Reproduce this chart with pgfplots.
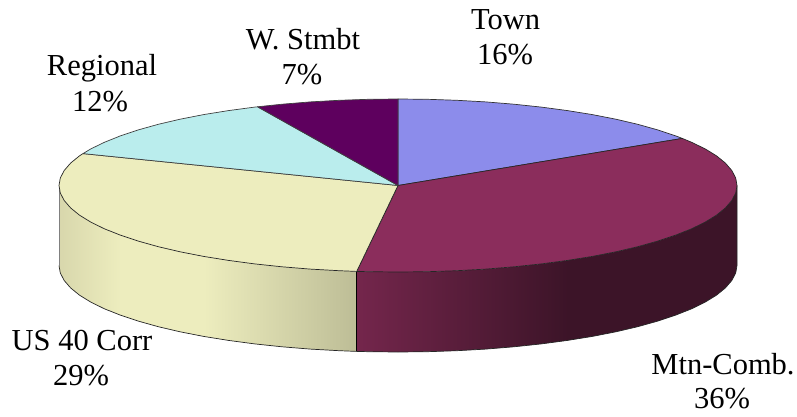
\documentclass[border=0pt]{standalone}
\usepackage{pgfplots}
\pgfplotsset{compat=1.18}
\usepackage{fontspec}
\setmainfont{Liberation Serif}
\definecolor{cTown}{HTML}{8C8CEB}
\definecolor{cMtn}{HTML}{8B2D5C}
\definecolor{cUS}{HTML}{EDEDBE}
\definecolor{cReg}{HTML}{BAEDED}
\definecolor{cW}{HTML}{5E005E}
\definecolor{sMtnA}{HTML}{74264C}
\definecolor{sMtnB}{HTML}{3C1428}
\definecolor{sUSA}{HTML}{D8D7AC}
\definecolor{sUSC}{HTML}{BDBD96}
\newcommand{\lab}[3]{\node[anchor=base,inner sep=0pt,font=\fontsize{30.5}{35}\selectfont] at (axis cs:#1,#2) {#3};}
\begin{document}
\begin{tikzpicture}
\begin{axis}[
  scale only axis, width=797pt, height=417pt,
  xmin=0, xmax=797, ymin=0, ymax=417, y dir=reverse,
  ticks=none, axis line style={draw=none}, clip=false,
  every axis plot/.append style={line join=round}
]
% side: Mtn-Comb.
\addplot[draw=none, left color=sMtnB, right color=sMtnB] coordinates {
(737,185.5)(735.7,193)(731.8,200.5)(725.4,207.9)(716.6,215.1)(705.2,222.1)(691.6,228.8)(675.7,235.1)(657.7,241.1)(637.7,246.7)(615.9,251.8)(592.4,256.4)(567.5,260.4)
(567.5,340.4)(592.4,336.4)(615.9,331.8)(637.7,326.7)(657.7,321.1)(675.7,315.1)(691.6,308.8)(705.2,302.1)(716.6,295.1)(725.4,287.9)(731.8,280.5)(735.7,273)(737,265.5)(737,185.5)};
\addplot[draw=none, left color=sMtnA, right color=sMtnB] coordinates {
(568,260.4)(541.3,263.9)(513.9,266.8)(485.7,269.1)(456.9,270.7)(427.6,271.7)(398,272)(368.4,271.7)(356.7,271.4)
(356.7,351.4)(368.4,351.7)(398,352)(427.6,351.7)(456.9,350.7)(485.7,349.1)(513.9,346.8)(541.3,343.9)(568,340.4)(568,260.4)};
% side: US 40 Corr
\addplot[draw=none, left color=cUS, right color=sUSC] coordinates {
(356.7,271.4)(339.1,270.7)(310.3,269.1)(282.1,266.8)(254.7,263.9)(228.5,260.4)(203.6,256.4)
(203.6,336.4)(228.5,340.4)(254.7,343.9)(282.1,346.8)(310.3,349.1)(339.1,350.7)(356.7,351.4)(356.7,271.4)};
\addplot[draw=none, fill=cUS] coordinates {
(204,256.4)(180.1,251.8)(158.3,246.7)(138.3,241.1)(120,235.1)
(120,315.1)(138.3,321.1)(158.3,326.7)(180.1,331.8)(204,336.4)(204,256.4)};
\addplot[draw=none, left color=sUSA, right color=cUS] coordinates {
(120.5,235.1)(104.4,228.8)(90.8,222.1)(79.4,215.1)(70.6,207.9)(64.2,200.5)(60.3,193)(59,185.5)
(59,265.5)(60.3,273)(64.2,280.5)(70.6,287.9)(79.4,295.1)(90.8,302.1)(104.4,308.8)(120.5,315.1)(120.5,235.1)};
% side outlines
\addplot[draw=black!85, line width=0.7pt] coordinates {
(737,185.5)(737,265.5)(735.7,273)(731.8,280.5)(725.4,287.9)(716.6,295.1)(705.2,302.1)(691.6,308.8)(675.7,315.1)(657.7,321.1)(637.7,326.7)(615.9,331.8)(592.4,336.4)(567.5,340.4)(541.3,343.9)(513.9,346.8)(485.7,349.1)(456.9,350.7)(427.6,351.7)(398,352)(368.4,351.7)(356.7,351.4)(339.1,350.7)(310.3,349.1)(282.1,346.8)(254.7,343.9)(228.5,340.4)(203.6,336.4)(180.1,331.8)(158.3,326.7)(138.3,321.1)(120.3,315.1)(104.4,308.8)(90.8,302.1)(79.4,295.1)(70.6,287.9)(64.2,280.5)(60.3,273)(59,265.5)};
\addplot[draw=black!50, line width=0.6pt] coordinates {(59,185.5)(59,265.5)};
\addplot[draw=black, line width=0.7pt] coordinates {(356.7,271.4)(356.7,351.4)};
% top: Town 16%
\addplot[draw=black!80, line width=0.7pt, fill=cTown] coordinates {
(398,185.5)(398,99)(427.6,99.3)(456.9,100.3)(485.7,101.9)(513.9,104.2)(541.3,107.1)(567.5,110.6)(592.4,114.6)(615.9,119.2)(637.7,124.3)(657.7,129.9)(675.7,135.9)(682.3,138.4)(398,185.5)};
% top: Mtn-Comb. 36%
\addplot[draw=black!85, line width=0.7pt, fill=cMtn] coordinates {
(398,185.5)(682.3,138.4)(691.6,142.3)(705.2,148.9)(716.6,155.9)(725.4,163.1)(731.8,170.5)(735.7,178)(737,185.5)(735.7,193)(731.8,200.5)(725.4,207.9)(716.6,215.1)(705.2,222.1)(691.6,228.8)(675.7,235.1)(657.7,241.1)(637.7,246.7)(615.9,251.8)(592.4,256.4)(567.5,260.4)(541.3,263.9)(513.9,266.8)(485.7,269.1)(456.9,270.7)(427.6,271.7)(398,272)(368.4,271.7)(356.7,271.4)(398,185.5)};
% top: US 40 Corr 29%
\addplot[draw=black!85, line width=0.7pt, fill=cUS] coordinates {
(398,185.5)(356.7,271.4)(339.1,270.7)(310.3,269.1)(282.1,266.8)(254.7,263.9)(228.5,260.4)(203.6,256.4)(180.1,251.8)(158.3,246.7)(138.3,241.1)(120.3,235.1)(104.4,228.8)(90.8,222.1)(79.4,215.1)(70.6,207.9)(64.2,200.5)(60.3,193)(59,185.5)(60.3,178)(64.2,170.5)(70.6,163.1)(79.4,155.9)(83,153.6)(398,185.5)};
% top: Regional 12%
\addplot[draw=black!75, line width=0.7pt, fill=cReg] coordinates {
(398,185.5)(83,153.6)(90.8,148.9)(104.4,142.3)(120.3,135.9)(138.3,129.9)(158.3,124.3)(180.1,119.2)(203.6,114.6)(228.5,110.6)(254.7,107.1)(257.5,106.8)(398,185.5)};
% top: W. Stmbt 7%
\addplot[draw=black!75, line width=0.7pt, fill=cW] coordinates {
(398,185.5)(257.5,106.8)(282.1,104.2)(310.3,101.9)(339.1,100.3)(368.4,99.3)(398,99)(398,185.5)};
\lab{505.7}{30}{Town}
\lab{505}{65}{16\%}
\lab{303}{50}{W. Stmbt}
\lab{302}{85}{7\%}
\lab{102}{76}{Regional}
\lab{100}{111}{12\%}
\lab{82}{350}{US 40 Corr}
\lab{81}{385}{29\%}
\lab{723}{374}{Mtn-Comb.}
\lab{722}{408}{36\%}
\end{axis}
\end{tikzpicture}
\end{document}
